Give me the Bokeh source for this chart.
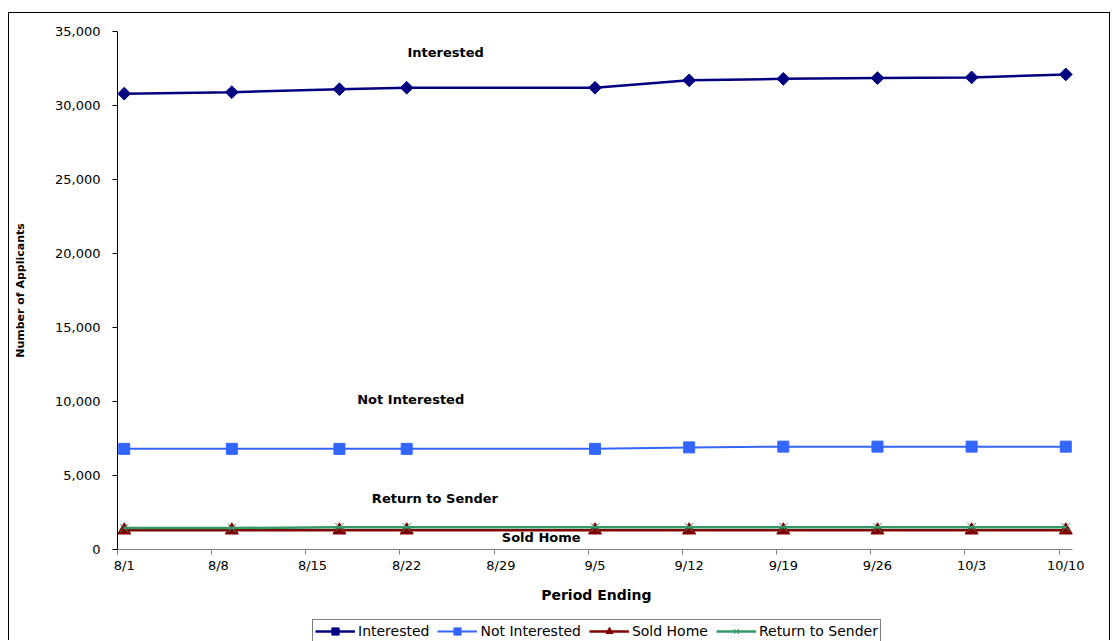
import math
import pandas as pd
from bokeh.plotting import figure
from bokeh.models import (Range1d, FixedTicker, NumeralTickFormatter,
                          Legend, LegendItem, Label)
from bokeh.embed import file_html
from bokeh.resources import INLINE

# ---- data -------------------------------------------------------------
axis_start = "2008-08-01"
period_ending = ["2008-08-01", "2008-08-09", "2008-08-17", "2008-08-22", "2008-09-05",
                 "2008-09-12", "2008-09-19", "2008-09-26", "2008-10-03", "2008-10-10"]
interested = [30800, 30900, 31100, 31200, 31200, 31700, 31800, 31850, 31900, 32100]
not_interested = [6800, 6800, 6800, 6800, 6800, 6900, 6950, 6950, 6950, 6950]
sold_home = [1300, 1300, 1300, 1300, 1300, 1300, 1300, 1300, 1300, 1300]
return_to_sender = [1450, 1450, 1500, 1500, 1500, 1500, 1500, 1500, 1500, 1500]

week_labels = ["8/1", "8/8", "8/15", "8/22", "8/29", "9/5", "9/12", "9/19", "9/26", "10/3", "10/10"]
y_ticks = [0, 5000, 10000, 15000, 20000, 25000, 30000, 35000]

# day offsets from the first period; each point sits in the middle of its day
start = pd.Timestamp(axis_start)
day_of = [(pd.Timestamp(d) - start).days for d in period_ending]
xs = [d + 0.5 for d in day_of]
week_ticks = [7 * i for i in range(len(week_labels))]
label_ticks = [t + 0.5 for t in week_ticks]
last_day = week_ticks[-1] + 1
y_max = y_ticks[-1]

FONT = "DejaVu Sans"

# The plot area fills the whole canvas; both axes are pinned at zero so the
# tick labels, titles and legend all sit inside it.
W, H = 1102, 628
axis_left, axis_right = 108, 1063      # pixel span of the date axis
axis_top, axis_bottom = 18, 536        # pixel span of the value axis
px_day = (axis_right - axis_left) / last_day
px_val = (axis_bottom - axis_top) / y_max
x_rng = Range1d(-axis_left / px_day, last_day + (W - axis_right) / px_day)
y_rng = Range1d(-(H - axis_bottom) / px_val, y_max + axis_top / px_val)

p = figure(width=W, height=H, output_backend="svg", toolbar_location=None,
           x_range=x_rng, y_range=y_rng,
           min_border_left=0, min_border_right=0, min_border_top=0, min_border_bottom=0,
           background_fill_color="white", border_fill_color="white")
# chart-area frame
p.margin = (12, 0, 0, 8)
p.styles = {"border-top": "1px solid black", "border-left": "1px solid black",
            "border-right": "1px solid black"}
p.outline_line_color = None
p.grid.visible = False

# y axis
ya = p.yaxis[0]
ya.fixed_location = 0
ya.bounds = (0, y_max)
ya.ticker = FixedTicker(ticks=y_ticks)
ya.formatter = NumeralTickFormatter(format="0,0")
ya.axis_line_color = "black"
ya.major_tick_line_color = "black"
ya.major_tick_in = 0
ya.major_tick_out = 5
ya.minor_tick_line_color = None
ya.major_label_standoff = 12
ya.major_label_text_font = FONT
ya.major_label_text_font_size = "13px"
ya.major_label_text_color = "black"

# x axis: tick marks at week boundaries (minor), labels centred on each day (major)
xa = p.xaxis[0]
xa.fixed_location = 0
xa.bounds = (0, last_day)
xa.ticker = FixedTicker(ticks=label_ticks, minor_ticks=week_ticks)
xa.major_label_overrides = {t: lab for t, lab in zip(label_ticks, week_labels)}
xa.axis_line_color = "#808080"
xa.major_tick_line_color = None
xa.major_tick_in = 0
xa.major_tick_out = 5
xa.minor_tick_line_color = "#808080"
xa.minor_tick_in = 0
xa.minor_tick_out = 5
xa.major_label_standoff = 3
xa.major_label_text_font = FONT
xa.major_label_text_font_size = "13px"
xa.major_label_text_color = "black"

# axis titles
p.add_layout(Label(x=-97 / px_day, y=y_max / 2, text="Number of Applicants", angle=math.pi / 2,
                   text_align="center", text_baseline="middle", text_font=FONT,
                   text_font_size="11px", text_font_style="bold", text_color="black"))
p.add_layout(Label(x=35.6, y=-45 / px_val, text="Period Ending",
                   text_align="center", text_baseline="middle", text_font=FONT,
                   text_font_size="14px", text_font_style="bold", text_color="black"))

# series
l1 = p.line(xs, interested, line_color="#000080", line_width=2.5)
m1 = p.scatter(xs, interested, marker="square", angle=math.pi / 4, size=9,
               fill_color="#000080", line_color="#000080")
l2 = p.line(xs, not_interested, line_color="#3366FF", line_width=2)
m2 = p.scatter(xs, not_interested, marker="square", size=11,
               fill_color="#3366FF", line_color="#3366FF")
l3 = p.line(xs, sold_home, line_color="#800000", line_width=2.5)
m3 = p.scatter(xs, sold_home, marker="triangle", size=13,
               fill_color="#800000", line_color="#800000")
l4 = p.line(xs, return_to_sender, line_color="#339966", line_width=2.5)
m4 = p.scatter(xs, return_to_sender, marker="x", size=12, line_color="#339966", line_width=1)

# series name tags on the plot
for txt, dx, yv in [("Interested", 24.4, 33600), ("Not Interested", 21.8, 10130),
                    ("Return to Sender", 23.6, 3450), ("Sold Home", 31.5, 800)]:
    p.add_layout(Label(x=dx, y=yv, text=txt, text_align="center", text_baseline="middle",
                       text_font=FONT, text_font_size="13px", text_font_style="bold",
                       text_color="black"))

legend = Legend(items=[LegendItem(label="Interested", renderers=[l1, m1]),
                       LegendItem(label="Not Interested", renderers=[l2, m2]),
                       LegendItem(label="Sold Home", renderers=[l3, m3]),
                       LegendItem(label="Return to Sender", renderers=[l4, m4])],
                orientation="horizontal", location=(303, -2))
legend.label_text_font = FONT
legend.label_text_font_size = "14px"
legend.label_text_color = "black"
legend.label_standoff = 3
legend.label_height = 14
legend.glyph_height = 18
legend.glyph_width = 40
legend.spacing = 8
legend.padding = 2
legend.margin = 0
legend.border_line_color = "black"
legend.border_line_width = 1
legend.background_fill_color = "white"
legend.background_fill_alpha = 1
p.add_layout(legend, "center")

open("out.html", "w").write(file_html(p, INLINE))
